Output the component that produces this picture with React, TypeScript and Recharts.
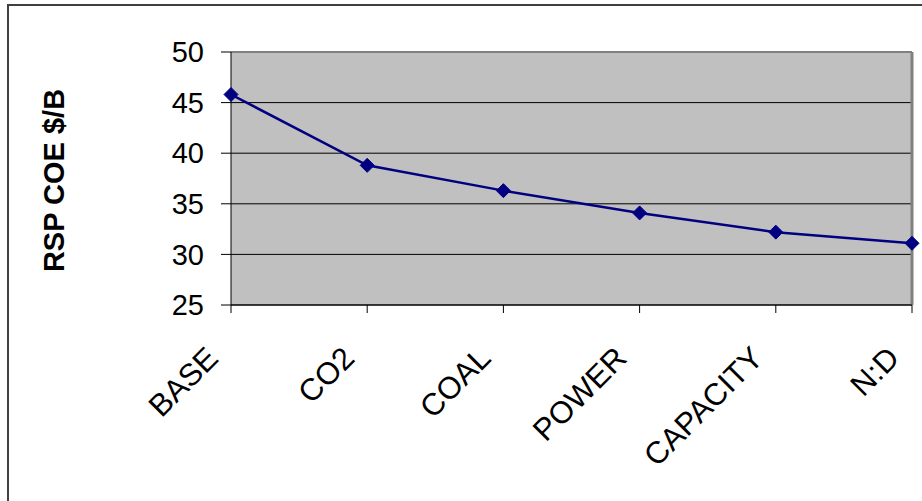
import React from 'react';
import { LineChart, Line, XAxis, YAxis, CartesianGrid, ReferenceLine } from 'recharts';

const categories = ['BASE', 'CO2', 'COAL', 'POWER', 'CAPACITY', 'N:D'];
const coeValues = [45.8, 38.8, 36.3, 34.1, 32.2, 31.1];
const yTicks = [25, 30, 35, 40, 45, 50];

const data = categories.map((name, i) => ({ name, coe: coeValues[i] }));

const FONT = '"Liberation Sans", Arial, sans-serif';

const Diamond = (props: any) => {
  const { cx, cy, index } = props;
  if (cx == null || cy == null) return null;
  const r = 7;
  return (
    <polygon
      key={`d-${index}`}
      points={`${cx},${cy - r} ${cx + r},${cy} ${cx},${cy + r} ${cx - r},${cy}`}
      fill="#000080"
      stroke="#000080"
      strokeWidth={1}
    />
  );
};

const XTick = (props: any) => {
  const { x, y, payload } = props;
  return (
    <g transform={`translate(${x - 11},${y + 45})`}>
      <text
        x={0}
        y={0}
        textAnchor="end"
        transform="rotate(-45)"
        fontSize={31}
        fontFamily={FONT}
        fill="#000"
      >
        {payload.value}
      </text>
    </g>
  );
};

const YTitle = (props: any) => {
  const vb = props.viewBox || {};
  const cx = 54;
  const cy = (vb.y ?? 52) + (vb.height ?? 253) / 2 + 2;
  return (
    <text
      x={cx}
      y={cy}
      transform={`rotate(-90 ${cx} ${cy})`}
      textAnchor="middle"
      dominantBaseline="central"
      fontSize={29}
      fontWeight="bold"
      fontFamily={FONT}
      fill="#000"
    >
      RSP COE $/B
    </text>
  );
};

export default function App() {
  return (
    <div style={{ position: 'absolute', left: 0, top: 0, width: 922, height: 501, overflow: 'hidden', background: '#fff' }}>
      <div
        style={{
          position: 'absolute',
          left: 7,
          top: 4,
          width: 960,
          height: 540,
          border: '2px solid #404040',
          boxSizing: 'border-box',
        }}
      />
      <div style={{ position: 'absolute', left: 0, top: 0 }}>
        <LineChart width={922} height={501} data={data} margin={{ top: 52, right: 10, bottom: 0, left: 0 }}>
          <CartesianGrid fill="#c0c0c0" fillOpacity={1} vertical={false} stroke="#000" strokeWidth={1} />
          <XAxis
            dataKey="name"
            height={196}
            tickSize={8}
            tickMargin={2}
            tick={<XTick />}
            axisLine={{ stroke: '#000', strokeWidth: 1 }}
            tickLine={{ stroke: '#000', strokeWidth: 1 }}
            interval={0}
          />
          <YAxis
            width={231}
            domain={[25, 50]}
            ticks={yTicks}
            interval={0}
            tickSize={10}
            tickMargin={17}
            axisLine={{ stroke: '#000', strokeWidth: 1 }}
            tickLine={{ stroke: '#000', strokeWidth: 1 }}
            tick={{ fontSize: 29, fontFamily: FONT, fill: '#000' }}
            label={<YTitle />}
          />
          <ReferenceLine y={50} stroke="#808080" strokeWidth={2} />
          <ReferenceLine x="N:D" stroke="#808080" strokeWidth={3} />
          <Line
            type="linear"
            dataKey="coe"
            stroke="#000080"
            strokeWidth={2.5}
            dot={Diamond}
            activeDot={false}
            isAnimationActive={false}
          />
        </LineChart>
      </div>
    </div>
  );
}
